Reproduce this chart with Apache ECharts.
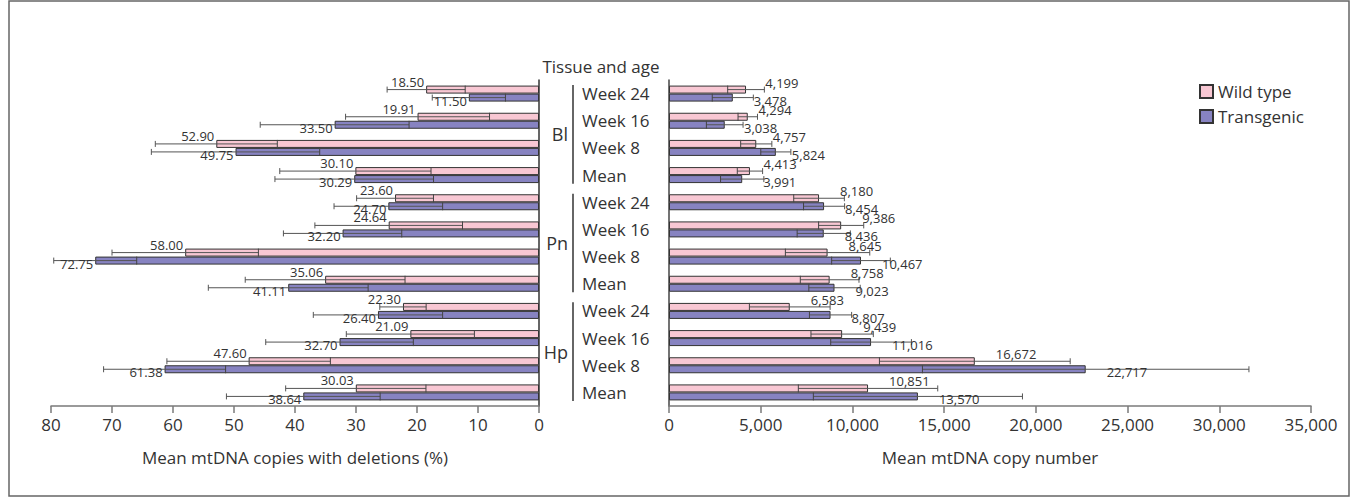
<!DOCTYPE html>
<html><head><meta charset="utf-8">
<script src="https://cdn.jsdelivr.net/npm/echarts@6/dist/echarts.min.js"></script>
<style>html,body{margin:0;padding:0;background:#fff}#c{width:1357px;height:502px}</style>
</head><body><div id="c"></div>
<script>
// ---- data ----
const tissues = ['Bl', 'Pn', 'Hp'];
const ages = ['Week 24', 'Week 16', 'Week 8', 'Mean'];
const seriesNames = ['Wild type', 'Transgenic'];
// Mean mtDNA copies with deletions (%)
const delWT   = [18.50, 19.91, 52.90, 30.10, 23.60, 24.64, 58.00, 35.06, 22.30, 21.09, 47.60, 30.03];
const delTG   = [11.50, 33.50, 49.75, 30.29, 24.70, 32.20, 72.75, 41.11, 26.40, 32.70, 61.38, 38.64];
const delWTsd = [6.4, 11.8, 10.0, 12.4, 6.3, 12.1, 12.0, 13.1, 3.8, 10.5, 13.4, 11.5];
const delTGsd = [6.0, 12.2, 13.8, 13.0, 8.9, 9.7, 6.8, 13.1, 10.6, 12.1, 10.0, 12.6];
// Mean mtDNA copy number
const cnWT   = [4199, 4294, 4757, 4413, 8180, 9386, 8645, 8758, 6583, 9439, 16672, 10851];
const cnTG   = [3478, 3038, 5824, 3991, 8454, 8436, 10467, 9023, 8807, 11016, 22717, 13570];
const cnWTsd = [1000, 530, 850, 690, 1380, 1230, 2300, 1600, 2200, 1700, 5200, 3800];
const cnTGsd = [1120, 1000, 820, 1180, 1120, 1450, 1600, 1400, 1150, 2200, 8900, 5700];
// axis ranges
const delAxis = {min: 0, max: 80, interval: 10};
const cnAxis = {min: 0, max: 35000, interval: 5000};

// ---- build ----
const rowKeys = [];
tissues.forEach(t => ages.forEach(a => rowKeys.push(t + '|' + a)));
const FONT = 'Open Sans';
const PINK = '#f8c7d3', PURPLE = '#8783c1';
const BW = 8;

function errData(means, sds, s) {
  return means.map((m, i) => [m, i, sds[i], s]);
}
function errRender(kind) {
  return function (params, api) {
    const m = api.value(0), row = api.value(1), sd = api.value(2), s = api.value(3);
    const c = api.coord([m, row]);
    const y = c[1] + (s === 0 ? -BW / 2 : BW / 2);
    const lo = api.coord([m - sd, row])[0];
    const hi = api.coord([m + sd, row])[0];
    const end = c[0];
    let text, tx, ty, align;
    if (kind === 'del') {
      text = m.toFixed(2);
      tx = end - 2; align = 'right';
      ty = y + (s === 0 ? -8 : 3);
    } else {
      text = m.toLocaleString('en-US');
      tx = Math.min(hi, end + 20) + 1; align = 'left';
      ty = y + (s === 0 ? -7 : 3);
    }
    return {
      type: 'group',
      children: [
        {type: 'line', shape: {x1: lo, y1: y, x2: hi, y2: y}, style: {stroke: '#555', lineWidth: 1}},
        {type: 'line', shape: {x1: lo, y1: y - BW / 2, x2: lo, y2: y + BW / 2}, style: {stroke: '#444', lineWidth: 1}},
        {type: 'line', shape: {x1: hi, y1: y - 3, x2: hi, y2: y + 3}, style: {stroke: '#555', lineWidth: 1}},
        {type: 'text', style: {text: text, x: tx, y: ty, align: align, verticalAlign: 'middle',
          fill: '#333', fontSize: 13, fontFamily: FONT}}
      ]
    };
  };
}

const valAxisCommon = {
  type: 'value',
  axisLine: {show: true, lineStyle: {color: '#7a7a7a', width: 1.5}},
  axisTick: {show: true, length: 7, lineStyle: {color: '#7a7a7a', width: 1.5}},
  splitLine: {show: false},
  nameLocation: 'middle', nameGap: 43,
  nameTextStyle: {fontSize: 17, color: '#333', fontFamily: FONT},
};

const option = {
  animation: false,
  backgroundColor: '#fff',
  textStyle: {fontFamily: FONT},
  grid: [
    {left: 51, width: 488, top: 80, height: 326},
    {left: 573, width: 96, top: 80, height: 326},
    {left: 669, width: 642, top: 80, height: 326}
  ],
  xAxis: [
    Object.assign({}, valAxisCommon, {
      gridIndex: 0, min: delAxis.min, max: delAxis.max, interval: delAxis.interval, inverse: true,
      axisLabel: {fontSize: 17, color: '#333', margin: 10, fontFamily: FONT},
      name: 'Mean mtDNA copies with deletions (%)'
    }),
    {gridIndex: 1, type: 'value', min: 0, max: 1, show: false},
    Object.assign({}, valAxisCommon, {
      gridIndex: 2, min: cnAxis.min, max: cnAxis.max, interval: cnAxis.interval,
      axisLabel: {fontSize: 17, color: '#333', margin: 10, fontFamily: FONT,
        formatter: v => v.toLocaleString('en-US')},
      name: 'Mean mtDNA copy number'
    })
  ],
  yAxis: [
    {gridIndex: 0, type: 'category', data: rowKeys, inverse: true, position: 'right',
      axisLine: {show: true, lineStyle: {color: '#333', width: 1.5}},
      axisTick: {show: false}, axisLabel: {show: false}},
    {gridIndex: 1, type: 'category', data: tissues, inverse: true, position: 'left',
      axisLine: {show: false}, axisTick: {show: false},
      axisLabel: {fontSize: 18, color: '#333', margin: 5, fontFamily: FONT}},
    {gridIndex: 2, type: 'category', data: rowKeys, inverse: true, position: 'left',
      axisLine: {show: true, lineStyle: {color: '#444', width: 1.5}},
      axisTick: {show: false},
      axisLabel: {fontSize: 17, color: '#333', margin: 87, align: 'left', fontFamily: FONT,
        formatter: v => v.split('|')[1]}}
  ],
  legend: {
    orient: 'vertical', left: 1194, top: 78, itemWidth: 13, itemHeight: 13, itemGap: 8,
    icon: 'rect', data: seriesNames,
    textStyle: {fontSize: 17, color: '#333', fontFamily: FONT}
  },
  graphic: [
    {type: 'rect', shape: {x: 9, y: 1, width: 1340, height: 495}, style: {fill: 'none', stroke: '#666', lineWidth: 1.5}, silent: true},
    {type: 'text', x: 601, y: 66, style: {text: 'Tissue and age', align: 'center', verticalAlign: 'middle',
      fontSize: 17, fill: '#333', fontFamily: FONT}}
  ],
  series: [
    {type: 'bar', name: seriesNames[0], xAxisIndex: 0, yAxisIndex: 0, data: delWT, barWidth: BW, barGap: '0%',
      itemStyle: {color: PINK, borderColor: '#333', borderWidth: 1}},
    {type: 'bar', name: seriesNames[1], xAxisIndex: 0, yAxisIndex: 0, data: delTG, barWidth: BW, barGap: '0%',
      itemStyle: {color: PURPLE, borderColor: '#333', borderWidth: 1}},
    {type: 'bar', name: seriesNames[0], xAxisIndex: 2, yAxisIndex: 2, data: cnWT, barWidth: BW, barGap: '0%',
      itemStyle: {color: PINK, borderColor: '#333', borderWidth: 1}},
    {type: 'bar', name: seriesNames[1], xAxisIndex: 2, yAxisIndex: 2, data: cnTG, barWidth: BW, barGap: '0%',
      itemStyle: {color: PURPLE, borderColor: '#333', borderWidth: 1}},
    {type: 'custom', xAxisIndex: 0, yAxisIndex: 0, z: 5, clip: false,
      data: errData(delWT, delWTsd, 0).concat(errData(delTG, delTGsd, 1)),
      encode: {x: 0, y: 1}, renderItem: errRender('del')},
    {type: 'custom', xAxisIndex: 2, yAxisIndex: 2, z: 5, clip: false,
      data: errData(cnWT, cnWTsd, 0).concat(errData(cnTG, cnTGsd, 1)),
      encode: {x: 0, y: 1}, renderItem: errRender('cn')},
    {type: 'custom', xAxisIndex: 1, yAxisIndex: 1, z: 5, clip: false,
      data: tissues.map((t, i) => [0, i]), encode: {x: 0, y: 1},
      renderItem: function (params, api) {
        const c = api.coord([0, api.value(1)]);
        const band = api.size([0, 1])[1];
        return {type: 'line', shape: {x1: c[0], y1: c[1] - band / 2 + 5, x2: c[0], y2: c[1] + band / 2 - 5},
          style: {stroke: '#333', lineWidth: 1.5}};
      }}
  ]
};
const chart = echarts.init(document.getElementById('c'), null, {renderer: 'svg'});
chart.setOption(option);
</script></body></html>
